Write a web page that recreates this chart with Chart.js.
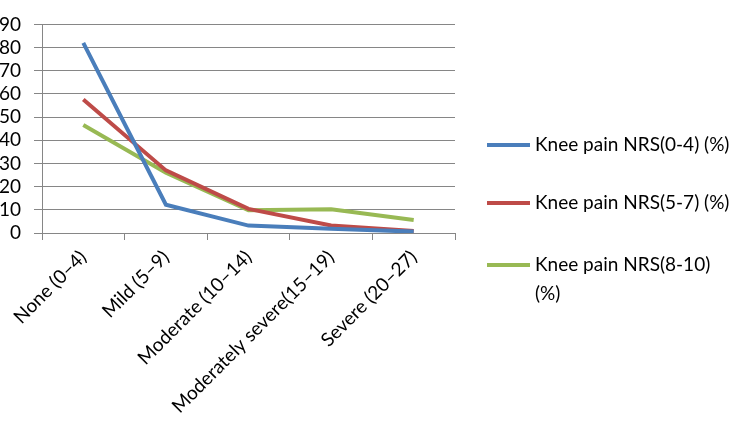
<!DOCTYPE html>
<html>
<head>
<meta charset="utf-8">
<script src="https://cdn.jsdelivr.net/npm/chart.js@4/dist/chart.umd.min.js"></script>
<style>
  html, body { margin: 0; padding: 0; background: #fff; }
  #wrap { position: relative; width: 733px; height: 422px; }
  #legend { position: absolute; left: 487px; top: 0; font-family: Lato, "Liberation Sans", sans-serif; font-size: 19px; color: #000; }
  .item { position: absolute; left: 0; width: 246px; display: flex; align-items: flex-start; }
  .swatch { width: 43px; height: 4px; margin-top: 11px; margin-right: 5px; flex: none; }
  .lbl { line-height: 29px; margin-top: -3px; }
</style>
</head>
<body>
<div id="wrap">
  <canvas id="c" width="733" height="422"></canvas>
  <div id="legend"></div>
</div>
<script>
const categories = ["None (0\u20134)", "Mild (5\u20139)", "Moderate (10\u201314)", "Moderately severe(15\u201319)", "Severe (20\u201327)"];
const seriesNames = ["Knee pain NRS(0-4) (%)", "Knee pain NRS(5-7) (%)", "Knee pain NRS(8-10) (%)"];
const nrs0to4 = [82.0, 12.2, 3.2, 1.8, 0.6];
const nrs5to7 = [57.6, 27.0, 10.4, 3.2, 0.9];
const nrs8to10 = [46.6, 26.0, 9.8, 10.2, 5.6];
const colors = ["#4A7EBB", "#BE4B48", "#98B954"];
const FONT = "Lato, 'Liberation Sans', sans-serif";

const seriesData = [nrs0to4, nrs5to7, nrs8to10];
const datasets = seriesData.map((d, i) => ({
  label: seriesNames[i],
  data: d,
  borderColor: colors[i],
  backgroundColor: colors[i],
  borderWidth: 4,
  pointRadius: 0,
  tension: 0,
  fill: false
}));

new Chart(document.getElementById('c'), {
  type: 'line',
  data: { labels: categories, datasets: datasets },
  options: {
    responsive: false,
    animation: false,
    layout: { padding: { top: 7, right: 278, left: 0, bottom: 0 } },
    plugins: { legend: { display: false }, tooltip: { enabled: false } },
    scales: {
      x: {
        offset: true,
        grid: { offset: true, drawOnChartArea: false, color: '#868686', tickLength: 7, tickColor: '#868686' },
        border: { color: '#868686', width: 1 },
        ticks: { minRotation: 45, maxRotation: 45, autoSkip: false, color: '#000', font: { family: FONT, size: 19 }, padding: 6 },
        afterFit: s => { s.height = 189; }
      },
      y: {
        min: 0, max: 90,
        grid: { color: '#868686', tickLength: 8, tickColor: '#868686' },
        border: { color: '#868686', width: 1 },
        ticks: { stepSize: 10, autoSkip: false, color: '#000', font: { family: FONT, size: 19 }, padding: 13 },
        afterFit: s => { s.width = 42; }
      }
    }
  }
});

const legend = document.getElementById('legend');
const tops = [132, 190, 252];
const legendLabels = ["Knee pain NRS(0-4) (%)", "Knee pain NRS(5-7) (%)", "Knee pain NRS(8-10)<br>(%)"];
legendLabels.forEach((t, i) => {
  const it = document.createElement('div');
  it.className = 'item';
  it.style.top = tops[i] + 'px';
  it.innerHTML = '<div class="swatch" style="background:' + colors[i] + '"></div><div class="lbl">' + t + '</div>';
  legend.appendChild(it);
});
</script>
</body>
</html>
